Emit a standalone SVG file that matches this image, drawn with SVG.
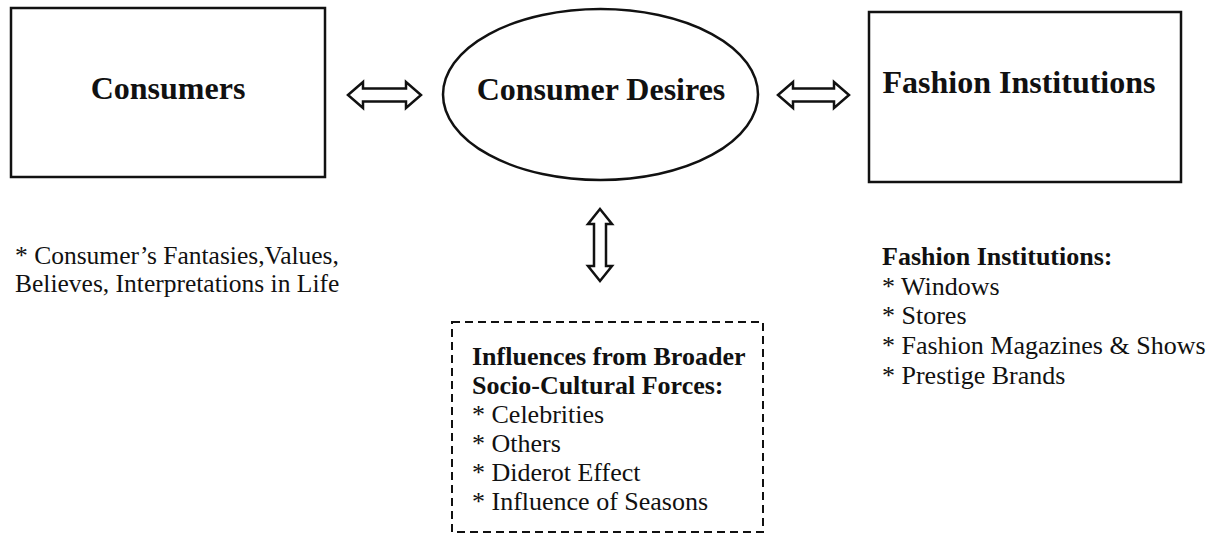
<svg xmlns="http://www.w3.org/2000/svg" width="1218" height="541" viewBox="0 0 1218 541">
  <style>
    .box { fill: #ffffff; stroke: #111111; stroke-width: 2.5; }
    .dash { fill: none; stroke: #111111; stroke-width: 2; stroke-dasharray: 8 5; }
    .arrow { fill: #ffffff; stroke: #111111; stroke-width: 2.5; stroke-linejoin: miter; }
    .title { font-family: "Liberation Serif", "Times New Roman", serif; font-weight: bold; font-size: 32px; fill: #111111; }
    .head { font-family: "Liberation Serif", "Times New Roman", serif; font-weight: bold; font-size: 26px; fill: #111111; }
    .body { font-family: "Liberation Serif", "Times New Roman", serif; font-size: 26px; fill: #111111; }
    .note { font-family: "Liberation Serif", "Times New Roman", serif; font-size: 25.5px; fill: #111111; }
  </style>
  <rect x="0" y="0" width="1218" height="541" fill="#ffffff"/>

  <!-- Consumers -->
  <g id="consumers">
    <rect class="box" x="11" y="8" width="314" height="169"/>
    <text class="title" x="168" y="99" text-anchor="middle">Consumers</text>
  </g>

  <!-- Consumer Desires -->
  <g id="consumer-desires">
    <ellipse class="box" cx="600.5" cy="94.5" rx="157.5" ry="85.5"/>
    <text class="title" x="601" y="100" text-anchor="middle">Consumer Desires</text>
  </g>

  <!-- Fashion Institutions -->
  <g id="fashion-institutions">
    <rect class="box" x="869" y="12" width="312" height="170"/>
    <text class="title" x="1019" y="93" text-anchor="middle">Fashion Institutions</text>
  </g>

  <!-- Consumer notes -->
  <g id="consumer-notes">
    <text class="note" x="15" y="263.5">* Consumer’s Fantasies,Values,</text>
    <text class="note" x="15" y="292">Believes, Interpretations in Life</text>
  </g>

  <!-- Fashion institutions list -->
  <g id="fashion-list">
    <text class="head" x="882" y="265">Fashion Institutions:</text>
    <text class="body" x="882" y="294.5">* Windows</text>
    <text class="body" x="882" y="324">* Stores</text>
    <text class="body" x="882" y="354">* Fashion Magazines &amp; Shows</text>
    <text class="body" x="882" y="384">* Prestige Brands</text>
  </g>

  <!-- Socio-cultural influences -->
  <g id="socio-cultural">
    <rect class="dash" x="452" y="322" width="311" height="210"/>
    <text class="head" x="472" y="365">Influences from Broader</text>
    <text class="head" x="472" y="394">Socio-Cultural Forces:</text>
    <text class="body" x="472" y="423">* Celebrities</text>
    <text class="body" x="472" y="452">* Others</text>
    <text class="body" x="472" y="481">* Diderot Effect</text>
    <text class="body" x="472" y="510">* Influence of Seasons</text>
  </g>

  <!-- Connectors: hollow double-headed arrows -->
  <g id="connectors">
    <polygon class="arrow" points="348,95 363,82 363,88.5 406,88.5 406,82 421,95 406,108 406,101.5 363,101.5 363,108"/>
    <polygon class="arrow" points="778,95 793,82 793,88.5 834,88.5 834,82 849,95 834,108 834,101.5 793,101.5 793,108"/>
    <polygon class="arrow" points="600,209 612,224 606,224 606,266 612,266 600,281 588,266 594,266 594,224 588,224"/>
  </g>
</svg>
